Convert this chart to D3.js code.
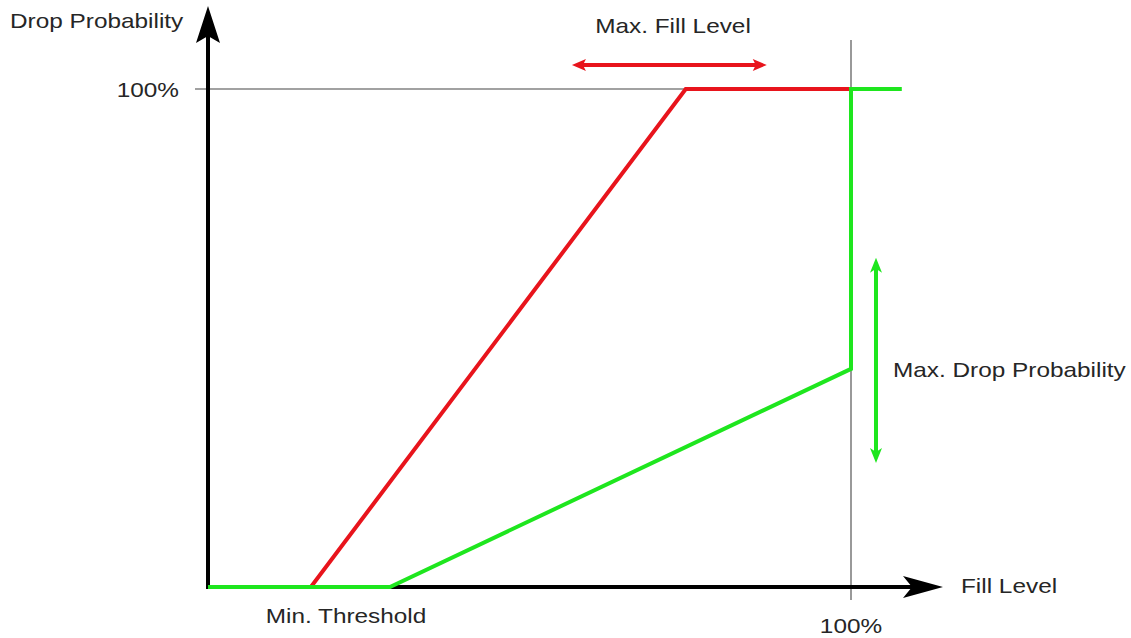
<!DOCTYPE html>
<html><head><meta charset="utf-8">
<script src="https://cdn.jsdelivr.net/npm/d3@7"></script>
<style>body{margin:0;background:#fff}svg text{font-family:"Liberation Sans",Arial,sans-serif;fill:#262626}</style>
</head><body>
<svg id="c" width="1131" height="638"></svg>
<script>
// Data (fill level %, drop probability %)
const redCurve = [[0,0],[16,0],[74.3,100],[100,100]];
const greenCurve = [[0,0],[28.3,0],[100,43.8],[100,100],[107.9,100]];
const yTickLabels = ["100%"];
const xTickLabels = ["100%"];
const yTickValues = [100];
const xTickValues = [100];
const maxFillArrow = [56.6,86.9];   // x range of red double arrow
const maxDropArrow = [66.1,24.9];   // y range of green double arrow

const svg = d3.select("#c");
const x = d3.scaleLinear().domain([0,100]).range([208,851]);
const y = d3.scaleLinear().domain([0,100]).range([587,89]);
const line = d3.line().x(d=>x(d[0])).y(d=>y(d[1]));

// grey reference lines
svg.append("line").attr("x1",195).attr("x2",x(100)).attr("y1",y(yTickValues[0])).attr("y2",y(yTickValues[0])).attr("stroke","#444").attr("stroke-width",1.2);
svg.append("line").attr("x1",x(xTickValues[0])).attr("x2",x(xTickValues[0])).attr("y1",40).attr("y2",600).attr("stroke","#555").attr("stroke-width",1.2);

// axes
svg.append("line").attr("x1",x(0)).attr("x2",x(0)).attr("y1",y(0)+2).attr("y2",36).attr("stroke","#000").attr("stroke-width",4);
svg.append("line").attr("x1",x(0)-2).attr("x2",915).attr("y1",y(0)).attr("y2",y(0)).attr("stroke","#000").attr("stroke-width",4);
// arrowheads
const ax=x(0), ay=6;
svg.append("path").attr("d",`M${ax},${ay} L${ax+12},${ay+37} L${ax},${ay+30} L${ax-12},${ay+37} Z`).attr("fill","#000");
const bx=943, by=y(0);
svg.append("path").attr("d",`M${bx},${by} L${bx-40},${by+11} L${bx-31},${by} L${bx-40},${by-11} Z`).attr("fill","#000");

// curves
svg.append("path").datum(redCurve).attr("d",line).attr("fill","none").attr("stroke","#e8141c").attr("stroke-width",4);
svg.append("path").datum(greenCurve).attr("d",line).attr("fill","none").attr("stroke","#1ee61e").attr("stroke-width",4);

// red double arrow
const ry=65, rx1=x(maxFillArrow[0]), rx2=x(maxFillArrow[1]);
svg.append("line").attr("x1",rx1+8).attr("x2",rx2-8).attr("y1",ry).attr("y2",ry).attr("stroke","#e8141c").attr("stroke-width",4);
svg.append("path").attr("d",`M${rx1},${ry} L${rx1+14},${ry-6} L${rx1+11},${ry} L${rx1+14},${ry+6} Z M${rx2},${ry} L${rx2-14},${ry-6} L${rx2-11},${ry} L${rx2-14},${ry+6} Z`).attr("fill","#e8141c");
// green double arrow
const gx=876, gy1=y(maxDropArrow[0]), gy2=y(maxDropArrow[1]);
svg.append("line").attr("x1",gx).attr("x2",gx).attr("y1",gy1+8).attr("y2",gy2-8).attr("stroke","#1ee61e").attr("stroke-width",4);
svg.append("path").attr("d",`M${gx},${gy1} L${gx-6},${gy1+15} L${gx},${gy1+11} L${gx+6},${gy1+15} Z M${gx},${gy2} L${gx-6},${gy2-15} L${gx},${gy2-11} L${gx+6},${gy2-15} Z`).attr("fill","#1ee61e");

// text (slightly wide glyphs, as in the reference)
const T=(t,xx,yy,anchor)=>svg.append("text").attr("transform",`translate(${xx},${yy}) scale(1.16,1)`).attr("text-anchor",anchor||"start").attr("font-size",21).text(t);
T("Drop Probability",10,28);
T(yTickLabels[0],179,y(yTickValues[0])+8,"end");
T("Max. Fill Level",673,33,"middle");
T("Fill Level",961,593);
T(xTickLabels[0],x(xTickValues[0]),633,"middle");
T("Min. Threshold",346,623,"middle");
T("Max. Drop Probability",893,377);
</script>
</body></html>
